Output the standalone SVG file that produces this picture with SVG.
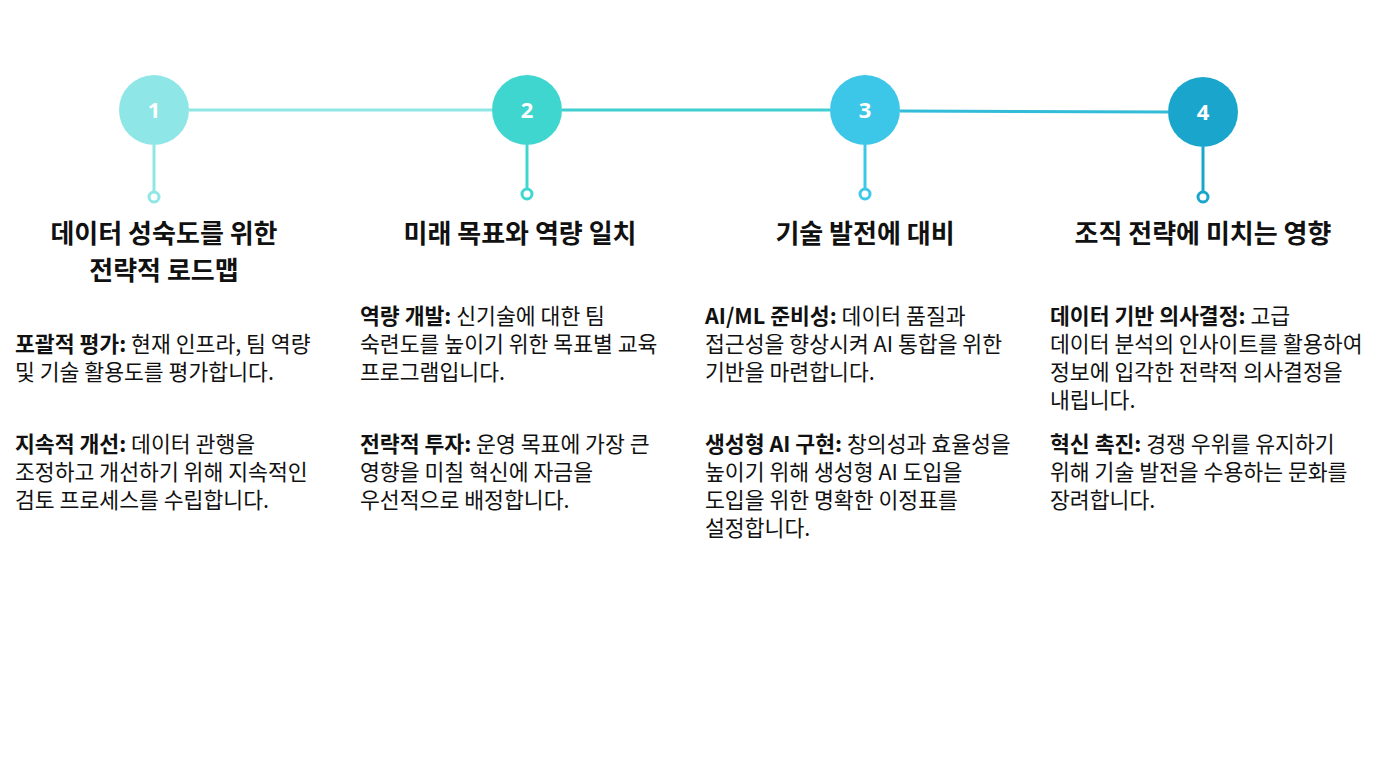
<svg xmlns="http://www.w3.org/2000/svg" width="1376" height="768" viewBox="0 0 1376 768">
<style>
text{font-family:"Noto Sans CJK KR","Noto Sans",sans-serif;fill:#111}
.t{font-size:26px;font-weight:bold;text-anchor:middle}
.b{font-size:21.6px}
.n{font-size:22px;font-weight:bold;fill:#fff;text-anchor:middle;font-family:"Noto Sans",sans-serif}
.l{font-weight:bold}
</style>
<rect width="1376" height="768" fill="#fff"/>
<g id="connectors" stroke-width="3" fill="none">
<line x1="189" y1="110" x2="492" y2="110" stroke="#8ee6e6"/>
<line x1="562" y1="110" x2="830" y2="110" stroke="#40cfd0"/>
<line x1="900" y1="111" x2="1168" y2="112" stroke="#32bcd8"/>
<g fill="#fff"><line x1="154" y1="145" x2="154" y2="191" stroke="#8ee6e6"/><circle cx="154" cy="197" r="5" stroke="#8ee6e6"/>
<line x1="527" y1="145" x2="527" y2="188" stroke="#40d6d0"/><circle cx="527" cy="194" r="5" stroke="#40d6d0"/>
<line x1="865" y1="145" x2="865" y2="188" stroke="#3cc6e8"/><circle cx="865" cy="194" r="5" stroke="#3cc6e8"/>
<line x1="1203" y1="147" x2="1203" y2="191" stroke="#1aa6cc"/><circle cx="1203" cy="197" r="5" stroke="#1aa6cc"/></g>
</g>
<g id="n1"><circle cx="154" cy="110" r="35" fill="#8ee6e6"/><text class="n" x="154" y="118">1</text>
<text class="t" x="164" y="243">데이터 성숙도를 위한</text><text class="t" x="164" y="280">전략적 로드맵</text>
<text class="b" x="15" y="352"><tspan class="l">포괄적 평가:</tspan> 현재 인프라, 팀 역량</text><text class="b" x="15" y="380">및 기술 활용도를 평가합니다.</text>
<text class="b" x="15" y="452"><tspan class="l">지속적 개선:</tspan> 데이터 관행을</text><text class="b" x="15" y="480">조정하고 개선하기 위해 지속적인</text><text class="b" x="15" y="508">검토 프로세스를 수립합니다.</text></g>
<g id="n2"><circle cx="527" cy="110" r="35" fill="#40d6d0"/><text class="n" x="527" y="118">2</text>
<text class="t" x="520" y="243">미래 목표와 역량 일치</text>
<text class="b" x="360" y="324"><tspan class="l">역량 개발:</tspan> 신기술에 대한 팀</text><text class="b" x="360" y="352">숙련도를 높이기 위한 목표별 교육</text><text class="b" x="360" y="380">프로그램입니다.</text>
<text class="b" x="360" y="452"><tspan class="l">전략적 투자:</tspan> 운영 목표에 가장 큰</text><text class="b" x="360" y="480">영향을 미칠 혁신에 자금을</text><text class="b" x="360" y="508">우선적으로 배정합니다.</text></g>
<g id="n3"><circle cx="865" cy="110" r="35" fill="#3cc6e8"/><text class="n" x="865" y="118">3</text>
<text class="t" x="865" y="243">기술 발전에 대비</text>
<text class="b" x="705" y="324"><tspan class="l">AI/ML 준비성:</tspan> 데이터 품질과</text><text class="b" x="705" y="352">접근성을 향상시켜 AI 통합을 위한</text><text class="b" x="705" y="380">기반을 마련합니다.</text>
<text class="b" x="705" y="452"><tspan class="l">생성형 AI 구현:</tspan> 창의성과 효율성을</text><text class="b" x="705" y="480">높이기 위해 생성형 AI 도입을</text><text class="b" x="705" y="508">도입을 위한 명확한 이정표를</text><text class="b" x="705" y="536">설정합니다.</text></g>
<g id="n4"><circle cx="1203" cy="112" r="35" fill="#1aa6cc"/><text class="n" x="1203" y="120">4</text>
<text class="t" x="1203" y="243">조직 전략에 미치는 영향</text>
<text class="b" x="1050" y="324"><tspan class="l">데이터 기반 의사결정:</tspan> 고급</text><text class="b" x="1050" y="352">데이터 분석의 인사이트를 활용하여</text><text class="b" x="1050" y="380">정보에 입각한 전략적 의사결정을</text><text class="b" x="1050" y="408">내립니다.</text>
<text class="b" x="1050" y="452"><tspan class="l">혁신 촉진:</tspan> 경쟁 우위를 유지하기</text><text class="b" x="1050" y="480">위해 기술 발전을 수용하는 문화를</text><text class="b" x="1050" y="508">장려합니다.</text></g>
</svg>
